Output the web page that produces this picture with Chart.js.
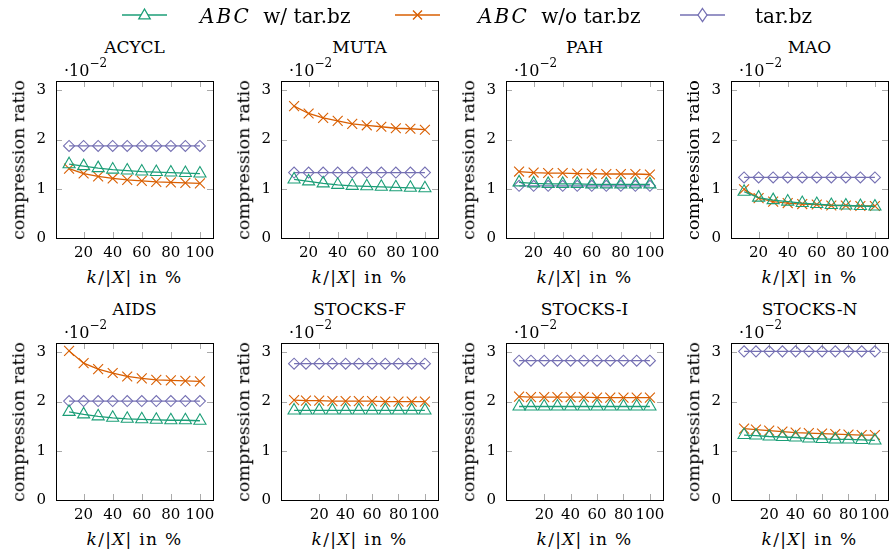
<!DOCTYPE html>
<html>
<head>
<meta charset="utf-8">
<script src="https://cdn.jsdelivr.net/npm/chart.js@4.4.1/dist/chart.umd.min.js"></script>
<style>
  body { margin: 0; width: 893px; height: 550px; overflow: hidden; background: #fff;
         font-family: "DejaVu Serif", serif; color: #000; position: relative; }
  .abs { position: absolute; white-space: nowrap; line-height: 1; font-weight: normal; }
  canvas { position: absolute; }
  .title { font-size: 17px; transform: translate(-50%, -50%); }
  .scale { font-size: 16px; transform: translateY(-50%); }
  .scale sup { font-size: 12px; position: relative; top: -2px; }
  .xlab { font-size: 17px; letter-spacing: 1.3px; transform: translate(-50%, -50%); }
  .ylab { font-size: 17.5px; transform: translate(-50%, -50%) rotate(-90deg); }
  .leg { font-size: 20px; transform: translateY(-50%); }
  .leg i { letter-spacing: 2px; margin-right: 6px; }
</style>
</head>
<body>
<script>
// x values (k/|X| in %)
const xTop = [10, 20, 30, 40, 50, 60, 70, 80, 90, 100];
const xStocks = [1, 10, 20, 30, 40, 50, 60, 70, 80, 90, 100];
const xTicks = [20, 40, 60, 80, 100];
const yTicks = [0, 1, 2, 3];

// compression ratio, in units of 10^-2
const acyclWith    = [1.50, 1.46, 1.42, 1.39, 1.37, 1.35, 1.34, 1.33, 1.32, 1.31];
const acyclWithout = [1.41, 1.31, 1.25, 1.21, 1.18, 1.16, 1.14, 1.13, 1.12, 1.11];
const acyclTar     = [1.87, 1.87, 1.87, 1.87, 1.87, 1.87, 1.87, 1.87, 1.87, 1.87];

const mutaWith     = [1.19, 1.15, 1.11, 1.08, 1.06, 1.05, 1.04, 1.03, 1.02, 1.01];
const mutaWithout  = [2.68, 2.53, 2.44, 2.38, 2.32, 2.29, 2.26, 2.23, 2.22, 2.20];
const mutaTar      = [1.33, 1.33, 1.33, 1.33, 1.33, 1.33, 1.33, 1.33, 1.33, 1.33];

const pahWith      = [1.13, 1.11, 1.10, 1.10, 1.10, 1.09, 1.09, 1.09, 1.09, 1.09];
const pahWithout   = [1.35, 1.33, 1.32, 1.32, 1.31, 1.31, 1.30, 1.30, 1.30, 1.29];
const pahTar       = [1.06, 1.06, 1.06, 1.06, 1.06, 1.06, 1.06, 1.06, 1.06, 1.06];

const maoWith      = [0.94, 0.82, 0.77, 0.74, 0.71, 0.69, 0.67, 0.66, 0.65, 0.64];
const maoWithout   = [0.99, 0.81, 0.74, 0.71, 0.69, 0.68, 0.66, 0.66, 0.65, 0.65];
const maoTar       = [1.23, 1.23, 1.23, 1.23, 1.23, 1.23, 1.23, 1.23, 1.23, 1.23];

const aidsWith     = [1.79, 1.74, 1.70, 1.67, 1.65, 1.64, 1.63, 1.62, 1.62, 1.61];
const aidsWithout  = [3.03, 2.78, 2.66, 2.58, 2.51, 2.47, 2.44, 2.43, 2.42, 2.41];
const aidsTar      = [2.01, 2.01, 2.01, 2.01, 2.01, 2.01, 2.01, 2.01, 2.01, 2.01];

const stocksFWith    = [1.82, 1.82, 1.82, 1.82, 1.82, 1.82, 1.82, 1.82, 1.82, 1.82, 1.82];
const stocksFWithout = [2.03, 2.02, 2.02, 2.01, 2.01, 2.01, 2.01, 2.00, 2.00, 2.00, 2.00];
const stocksFTar     = [2.77, 2.77, 2.77, 2.77, 2.77, 2.77, 2.77, 2.77, 2.77, 2.77, 2.77];

const stocksIWith    = [1.90, 1.90, 1.90, 1.90, 1.90, 1.90, 1.90, 1.90, 1.90, 1.90, 1.90];
const stocksIWithout = [2.10, 2.09, 2.09, 2.09, 2.09, 2.09, 2.08, 2.08, 2.08, 2.08, 2.08];
const stocksITar     = [2.83, 2.83, 2.83, 2.83, 2.83, 2.83, 2.83, 2.83, 2.83, 2.83, 2.83];

const stocksNWith    = [1.32, 1.31, 1.29, 1.28, 1.27, 1.25, 1.24, 1.23, 1.23, 1.22, 1.21];
const stocksNWithout = [1.45, 1.43, 1.41, 1.39, 1.37, 1.36, 1.35, 1.34, 1.33, 1.32, 1.32];
const stocksNTar     = [3.02, 3.02, 3.02, 3.02, 3.02, 3.02, 3.02, 3.02, 3.02, 3.02, 3.02];

const titles = ['ACYCL', 'MUTA', 'PAH', 'MAO', 'AIDS', 'STOCKS-F', 'STOCKS-I', 'STOCKS-N'];

const green = '#1b9e77', orange = '#d95f02', purple = '#7570b3';

const panels = [
  { x: xTop, w: acyclWith, wo: acyclWithout, t: acyclTar },
  { x: xTop, w: mutaWith, wo: mutaWithout, t: mutaTar },
  { x: xTop, w: pahWith, wo: pahWithout, t: pahTar },
  { x: xTop, w: maoWith, wo: maoWithout, t: maoTar },
  { x: xTop, w: aidsWith, wo: aidsWithout, t: aidsTar },
  { x: xStocks, w: stocksFWith, wo: stocksFWithout, t: stocksFTar },
  { x: xStocks, w: stocksIWith, wo: stocksIWithout, t: stocksITar },
  { x: xStocks, w: stocksNWith, wo: stocksNWithout, t: stocksNTar }
];

// layout of the grid
const plotLefts = [56, 281, 506, 731];
const plotTops = [81, 343];
const plotSize = 157;

const tickFont = { family: 'DejaVu Serif', size: 15 };

// frame and inward grey tick marks, pgfplots style
const frameTicks = {
  id: 'frameTicks',
  beforeDatasetsDraw(chart) {
    const { ctx, chartArea: a, scales: { x, y } } = chart;
    ctx.save();
    ctx.strokeStyle = '#aaaaaa';
    ctx.lineWidth = 1;
    ctx.beginPath();
    x.ticks.forEach(t => {
      const px = Math.round(x.getPixelForValue(t.value)) + 0.5;
      ctx.moveTo(px, a.bottom); ctx.lineTo(px, a.bottom - 6);
      ctx.moveTo(px, a.top); ctx.lineTo(px, a.top + 6);
    });
    y.ticks.forEach(t => {
      const py = Math.round(y.getPixelForValue(t.value)) + 0.5;
      ctx.moveTo(a.left, py); ctx.lineTo(a.left + 6, py);
      ctx.moveTo(a.right, py); ctx.lineTo(a.right - 6, py);
    });
    ctx.stroke();
    ctx.restore();
  },
  afterDraw(chart) {
    const { ctx, chartArea: a } = chart;
    ctx.save();
    ctx.strokeStyle = '#000';
    ctx.lineWidth = 1;
    ctx.strokeRect(Math.round(a.left) + 0.5, Math.round(a.top) + 0.5,
                   Math.round(a.width), Math.round(a.height));
    ctx.restore();
  }
};

function series(xs, ys, color, style, radius) {
  return {
    data: xs.map((x, i) => ({ x: x, y: ys[i] })),
    borderColor: color,
    backgroundColor: 'rgba(0,0,0,0)',
    borderWidth: 1.3,
    pointStyle: style,
    pointRadius: radius,
    pointBorderColor: color,
    pointBackgroundColor: 'rgba(0,0,0,0)',
    pointBorderWidth: 1.1,
    tension: 0,
    clip: false
  };
}

function addDiv(cls, html, left, top) {
  const d = document.createElement('div');
  d.className = 'abs ' + cls;
  d.innerHTML = html;
  d.style.left = left + 'px';
  d.style.top = top + 'px';
  document.body.appendChild(d);
}

panels.forEach((p, i) => {
  const col = i % 4, row = Math.floor(i / 4);
  const pl = plotLefts[col], pt = plotTops[row];

  const canvas = document.createElement('canvas');
  canvas.width = 225;
  canvas.height = 202;
  canvas.style.left = (pl - 56) + 'px';
  canvas.style.top = (pt - 20) + 'px';
  canvas.style.width = '225px';
  canvas.style.height = '202px';
  document.body.appendChild(canvas);

  // pgfplots enlarges the x limits by 10% of the data range
  const span = p.x[p.x.length - 1] - p.x[0];
  const xmin = p.x[0] - span * 0.1;
  const xmax = p.x[p.x.length - 1] + span * 0.1;

  new Chart(canvas, {
    type: 'line',
    data: {
      datasets: [
        series(p.x, p.w, green, 'triangle', 7),
        series(p.x, p.wo, orange, 'crossRot', 7),
        series(p.x, p.t, purple, 'rectRot', 5.5)
      ]
    },
    options: {
      responsive: false,
      animation: false,
      layout: { padding: { top: 20, right: 12, left: 0, bottom: 0 } },
      plugins: { legend: { display: false }, tooltip: { enabled: false } },
      scales: {
        x: {
          type: 'linear', min: xmin, max: xmax,
          grid: { display: false, drawTicks: false },
          border: { display: false },
          afterBuildTicks: s => { s.ticks = xTicks.map(v => ({ value: v })); },
          afterFit: s => { s.height = 25; },
          ticks: { font: tickFont, color: '#000', padding: 6, maxRotation: 0, autoSkip: false }
        },
        y: {
          type: 'linear', min: 0, max: 3.19,
          grid: { display: false, drawTicks: false },
          border: { display: false },
          afterBuildTicks: s => { s.ticks = yTicks.map(v => ({ value: v })); },
          afterFit: s => { s.width = 56; },
          ticks: { font: tickFont, color: '#000', padding: 10, callback: v => String(v) }
        }
      }
    },
    plugins: [frameTicks]
  });

  addDiv('title', titles[i], pl + plotSize / 2, pt - 34);
  addDiv('scale', '&middot;10<sup>&minus;2</sup>', pl + 8, pt - 12);
  addDiv('xlab', '<i>k</i>/|<i>X</i>| in %', pl + plotSize / 2, pt + plotSize + 39);
  addDiv('ylab', 'compression ratio', pl - 37, pt + plotSize / 2);
});

// legend
function legendIcon(color, shape, left) {
  let mark = '';
  if (shape === 'triangle') mark = `<polygon points="22.5,4 28.2,13.8 16.8,13.8" fill="#fff" stroke="${color}" stroke-width="1.3"/>`;
  if (shape === 'cross') mark = `<path d="M18,5.5 L27,14.5 M27,5.5 L18,14.5" stroke="${color}" stroke-width="1.4"/>`;
  if (shape === 'diamond') mark = `<polygon points="22.5,3.5 27,10 22.5,16.5 18,10" fill="#fff" stroke="${color}" stroke-width="1.3"/>`;
  const html = `<svg width="45" height="20"><line x1="0" y1="10" x2="45" y2="10" stroke="${color}" stroke-width="1.5"/>${mark}</svg>`;
  const d = document.createElement('div');
  d.className = 'abs';
  d.style.left = left + 'px';
  d.style.top = '5px';
  d.innerHTML = html;
  document.body.appendChild(d);
}
legendIcon(green, 'triangle', 122);
addDiv('leg', '<i>ABC</i> w/ tar.bz', 200, 16);
legendIcon(orange, 'cross', 395);
addDiv('leg', '<i>ABC</i> w/o tar.bz', 478, 16);
legendIcon(purple, 'diamond', 680);
addDiv('leg', 'tar.bz', 755, 16);
</script>
</body>
</html>
